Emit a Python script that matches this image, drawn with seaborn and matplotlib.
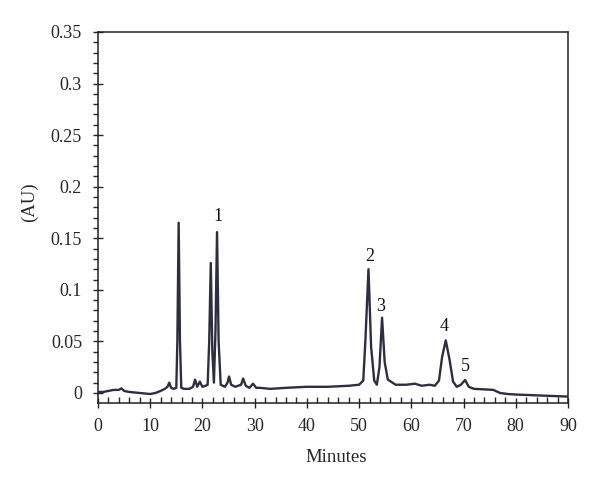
import matplotlib
matplotlib.use("Agg")
import matplotlib.pyplot as plt
from matplotlib.ticker import MultipleLocator
import seaborn as sns
import pandas as pd

# --- data ---
minutes = [0, 1, 2, 3, 4, 4.5, 5, 6, 8, 10, 11, 12, 12.8, 13.3, 13.65, 14.0, 14.5, 15.0,
           15.2, 15.45, 15.7, 15.95, 16.5, 17.5, 18.2, 18.6, 19.0, 19.5, 20.0, 20.6, 21.0,
           21.3, 21.6, 21.9, 22.2, 22.5, 22.8, 23.1, 23.5, 24.3, 24.8, 25.1, 25.5, 26.3,
           27.4, 27.8, 28.3, 29.0, 29.7, 30.3, 31, 33, 36, 40, 44, 48, 50, 50.8, 51.2,
           51.8, 52.3, 52.9, 53.4, 53.9, 54.4, 54.9, 55.5, 57, 59, 60.7, 62, 63.5, 64.5,
           65.3, 65.9, 66.6, 67.3, 68.0, 68.7, 69.5, 70.3, 71.0, 72, 74, 75.7, 77, 78.5,
           80, 85, 90]
absorbance = [0.001, 0.001, 0.002, 0.003, 0.003, 0.0045, 0.002, 0.001, 0.0, -0.001, 0.0,
              0.002, 0.004, 0.006, 0.010, 0.005, 0.004, 0.005,
              0.05, 0.165, 0.05, 0.005, 0.004, 0.004, 0.006, 0.013, 0.006, 0.011, 0.006,
              0.007, 0.008,
              0.05, 0.126, 0.04, 0.01, 0.06, 0.156, 0.05, 0.008, 0.006, 0.010, 0.016, 0.008,
              0.006,
              0.008, 0.014, 0.007, 0.005, 0.009, 0.005, 0.005, 0.004, 0.005, 0.006, 0.006,
              0.007, 0.008, 0.012, 0.05,
              0.120, 0.045, 0.012, 0.008, 0.025, 0.073, 0.03, 0.013, 0.008, 0.008, 0.009,
              0.007, 0.008, 0.007,
              0.012, 0.035, 0.051, 0.033, 0.011, 0.006, 0.008, 0.0126, 0.006, 0.004, 0.0035,
              0.003, 0.0, -0.001,
              -0.0015, -0.0025, -0.0035]

peak_labels = ["1", "2", "3", "4", "5"]
label_x = [22.9, 52.1, 54.2, 66.3, 70.3]
label_y = [0.171, 0.132, 0.084, 0.064, 0.026]

y_ticks = [0, 0.05, 0.1, 0.15, 0.2, 0.25, 0.3, 0.35]
y_tick_labels = ["0", "0.05", "0.1", "0.15", "0.2", "0.25", "0.3", "0.35"]
x_ticks = [0, 10, 20, 30, 40, 50, 60, 70, 80, 90]

sns.set_style("ticks")
plt.rcParams["font.family"] = ["Liberation Serif", "DejaVu Serif"]

df = pd.DataFrame({"Minutes": minutes, "AU": absorbance})

fig = plt.figure(figsize=(6, 4.86), dpi=100)
ax = fig.add_axes([0.1633, 0.1708, 0.7833, 0.7634])

sns.lineplot(data=df, x="Minutes", y="AU", ax=ax, color="#2e2e40", linewidth=1.7,
             estimator=None)

for lab, lx, ly in zip(peak_labels, label_x, label_y):
    ax.text(lx, ly, lab, ha="center", va="center", fontsize=13, color="#111111")

ax.set_xlim(0, 90)
ax.set_ylim(-0.0097, 0.35)
ax.set_yticks(y_ticks)
ax.set_yticklabels(y_tick_labels)
ax.set_xticks(x_ticks)
ax.xaxis.set_minor_locator(MultipleLocator(2))
ax.yaxis.set_minor_locator(MultipleLocator(0.01))

for s in ax.spines.values():
    s.set_visible(True)
    s.set_linewidth(1.1)
    s.set_color("#222222")

ax.tick_params(axis="x", which="major", direction="inout", length=7, width=1, labelsize=13, pad=7)
ax.tick_params(axis="x", which="minor", direction="in", length=4, width=1)
ax.tick_params(axis="y", which="major", direction="inout", length=7, width=1, labelsize=13, pad=8)
ax.tick_params(axis="y", which="minor", direction="out", length=3.5, width=1)

ax.set_xlabel("Minutes", fontsize=13.5)
ax.set_ylabel("(AU)", fontsize=13.5)
ax.xaxis.set_label_coords(0.506, -0.125)
ax.yaxis.set_label_coords(-0.128, 0.54)

fig.savefig("out.png", dpi=100)
